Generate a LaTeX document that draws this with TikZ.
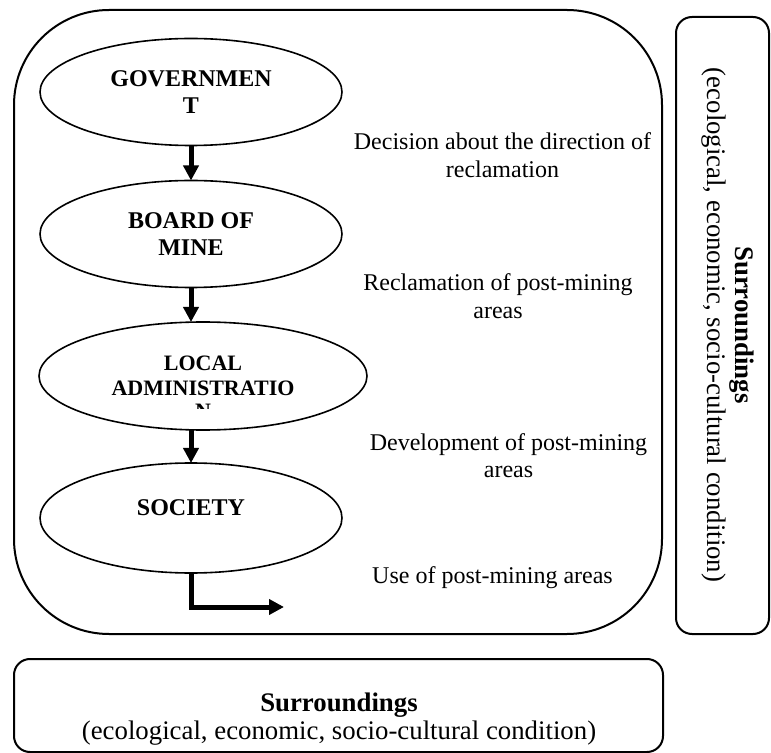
\documentclass[tikz,border=0pt]{standalone}
\usepackage{fontspec}
\setmainfont{Liberation Serif}
\usetikzlibrary{shapes.geometric,arrows.meta}
\tikzset{
  ell/.style={draw, ellipse, line width=0.8pt, inner sep=0pt, outer sep=0pt,
    minimum width=151pt, minimum height=53.5pt, align=center,
    font=\bfseries\fontsize{12pt}{13.8pt}\selectfont},
  arr/.style={line width=2.5pt, -{Triangle[length=7.5pt,width=7.5pt]}},
  note/.style={align=center, inner sep=0pt, font=\fontsize{12pt}{13.8pt}\selectfont},
  frame/.style={draw, line width=1pt, inner sep=0pt, outer sep=0pt},
  surr/.style={align=center, inner sep=0pt, font=\fontsize{13.4pt}{14pt}\selectfont}
}
\begin{document}
\begin{tikzpicture}[x=0.5pt, y=-0.5pt]
\useasboundingbox (0,0) rectangle (771,753);
% frames
\node[frame, rounded corners=47.5pt, minimum width=324pt, minimum height=312pt] (outer) at (338,322) {};
\node[frame, rounded corners=8pt, minimum width=46.5pt, minimum height=308.5pt] (vbox) at (722.5,325.5) {};
\node[frame, rounded corners=8pt, minimum width=324.5pt, minimum height=46.5pt] (hbox) at (338.5,705.5) {};
% ellipses
\node[ell] (gov) at (191,92) {GOVERNMEN\\T};
\node[ell] (board) at (191,234) {BOARD OF\\MINE};
\node[ell, minimum width=164pt, minimum height=54pt, font=\bfseries\fontsize{11pt}{12.5pt}\selectfont] (local) at (203,376) {LOCAL\\ADMINISTRATIO};
\begin{scope}
  \clip (150,395) rectangle (260,409);
  \node[inner sep=0pt, anchor=base, font=\bfseries\fontsize{11pt}{12.5pt}\selectfont] (localn) at (203,419) {N};
\end{scope}
\node[ell, minimum height=55pt] (soc) at (191,518) {SOCIETY\\[-3pt]\mbox{}};
% arrows
\draw[arr] (gov.south) -- (board.north);
\draw[arr] (board.south) -- (board.south |- local.north);
\draw[arr] (soc.north |- local.south) -- (soc.north);
\coordinate (useend) at (284,607);
\draw[arr] (soc.south) |- (useend);
% notes
\node[note] (dec) at (502.5,155) {Decision about the direction of\\reclamation};
\node[note] (rec) at (498,296) {Reclamation of post-mining\\areas};
\node[note] (dev) at (508.5,455.5) {Development of post-mining\\areas};
\node[note, anchor=base] (use) at (492.5,583) {Use of post-mining areas};
% surroundings texts
\node[surr, rotate=-90] (vtext) at (728,325) {\textbf{Surroundings}\\(ecological, economic, socio-cultural condition)};
\node[surr] (htext) at (339,719) {\textbf{Surroundings}\\(ecological, economic, socio-cultural condition)};
\end{tikzpicture}
\end{document}
